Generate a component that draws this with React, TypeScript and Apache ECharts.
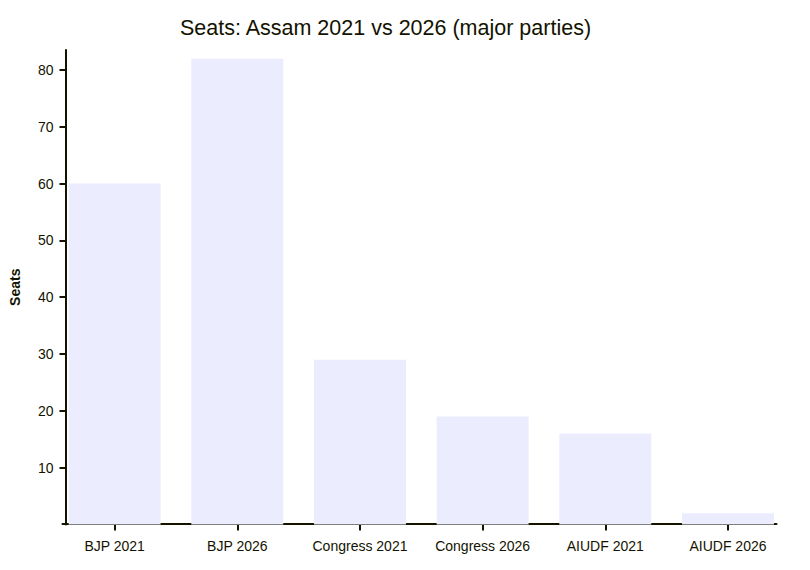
import React, { useEffect, useRef } from "react";
import * as echarts from "echarts";

const categories = ["BJP 2021", "BJP 2026", "Congress 2021", "Congress 2026", "AIUDF 2021", "AIUDF 2026"];
const seats = [60, 82, 29, 19, 16, 2];
const yTicks = [10, 20, 30, 40, 50, 60, 70, 80];

const TEXT = "#131300";
const BAR = "#ECECFF";
const FONT = "'Liberation Sans', Arial, sans-serif";

export default function App() {
  const ref = useRef<HTMLDivElement>(null);
  useEffect(() => {
    document.body.style.margin = "0";
    if (!ref.current) return;
    const chart = echarts.init(ref.current, null, { renderer: "svg" });
    chart.setOption({
      animation: false,
      backgroundColor: "#ffffff",
      textStyle: { fontFamily: FONT },
      title: {
        text: "Seats: Assam 2021 vs 2026 (major parties)",
        left: 380.5,
        textAlign: "center",
        top: 12,
        textStyle: { fontFamily: FONT, fontSize: 21.5, fontWeight: "normal", color: TEXT },
      },
      grid: [
        { left: 50.8, width: 738.5, top: 50, height: 474.5, containLabel: false },
        { left: 62.5, width: 714, top: 50, height: 473.3, containLabel: false },
      ],
      xAxis: [
        {
          type: "category",
          gridIndex: 0,
          data: categories,
          boundaryGap: true,
          axisLine: { show: false },
          axisTick: { show: true, alignWithLabel: true, length: 6, lineStyle: { color: TEXT, width: 2 } },
          axisLabel: { color: TEXT, fontSize: 14, fontFamily: FONT, margin: 14, interval: 0 },
          splitLine: { show: false },
        },
        {
          type: "value",
          gridIndex: 1,
          min: 0,
          max: 1,
          axisLine: { show: true, lineStyle: { color: TEXT, width: 2 } },
          axisTick: { show: false },
          axisLabel: { show: false },
          splitLine: { show: false },
        },
      ],
      yAxis: [
        {
          type: "value",
          gridIndex: 0,
          min: 0,
          max: 83.52,
          interval: 10,
          offset: -12.2,
          name: "Seats",
          nameLocation: "middle",
          nameGap: 43.5,
          nameRotate: 90,
          nameTextStyle: { color: TEXT, fontSize: 14, fontWeight: "bold", fontFamily: FONT },
          axisLine: { show: true, lineStyle: { color: TEXT, width: 2 } },
          axisTick: { show: true, length: 6, lineStyle: { color: TEXT, width: 2 }, customValues: yTicks },
          axisLabel: {
            color: TEXT,
            fontSize: 14,
            fontFamily: FONT,
            margin: 12,
            customValues: yTicks,
            formatter: (v: number) => (v === 0 ? "" : String(v)),
          },
          splitLine: { show: false },
        },
        {
          type: "value",
          gridIndex: 1,
          show: false,
          min: 0,
          max: 1,
        },
      ],
      series: [
        {
          type: "bar",
          xAxisIndex: 0,
          yAxisIndex: 0,
          data: seats,
          barWidth: 92,
          itemStyle: { color: BAR },
          emphasis: { disabled: true },
        },
      ],
    });
    return () => chart.dispose();
  }, []);
  return <div ref={ref} style={{ width: 810, height: 570 }} />;
}
